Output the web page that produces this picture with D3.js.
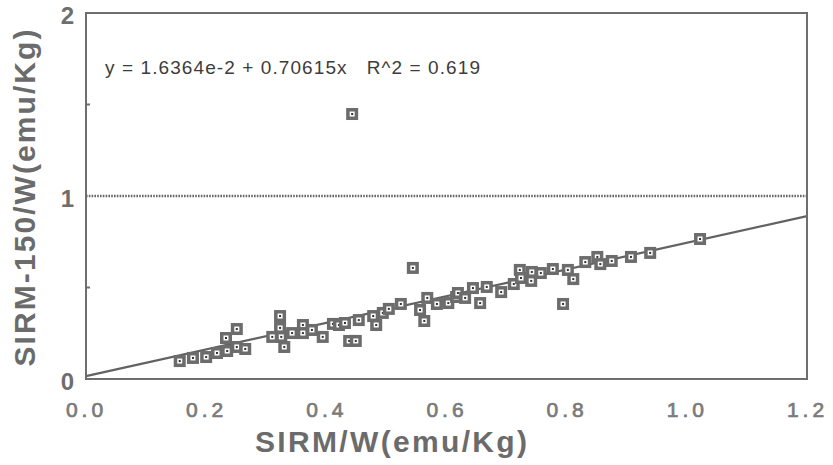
<!DOCTYPE html>
<html>
<head>
<meta charset="utf-8">
<script src="https://cdn.jsdelivr.net/npm/d3@7"></script>
<style>
  body { margin: 0; background: #fff; }
  svg { display: block; font-family: 'Liberation Sans', Arial, sans-serif; }
</style>
</head>
<body>
<div id="chart"></div>
<script>
// SIRM/W (x) and SIRM-150/W (y) per sample
let sirmW = [0.156, 0.178, 0.200, 0.218, 0.235, 0.233, 0.251, 0.251, 0.265, 0.323,
  0.323, 0.310, 0.325, 0.330, 0.343, 0.361, 0.361, 0.376, 0.394, 0.411,
  0.421, 0.431, 0.454, 0.438, 0.449, 0.478, 0.483, 0.494, 0.504, 0.524,
  0.544, 0.556, 0.563, 0.568, 0.584, 0.603, 0.616, 0.619, 0.631, 0.644,
  0.656, 0.667, 0.691, 0.712, 0.722, 0.724, 0.741, 0.742, 0.757, 0.777,
  0.794, 0.802, 0.811, 0.831, 0.851, 0.856, 0.875, 0.907, 0.939, 1.022,
  0.443];
let sirm150W = [0.098, 0.115, 0.120, 0.142, 0.153, 0.224, 0.273, 0.175, 0.164, 0.344,
  0.279, 0.230, 0.230, 0.175, 0.251, 0.295, 0.251, 0.268, 0.230, 0.301,
  0.295, 0.306, 0.322, 0.208, 0.208, 0.344, 0.295, 0.361, 0.383, 0.410,
  0.607, 0.377, 0.317, 0.443, 0.410, 0.415, 0.448, 0.470, 0.443, 0.497,
  0.415, 0.503, 0.475, 0.519, 0.596, 0.552, 0.536, 0.585, 0.579, 0.601,
  0.410, 0.596, 0.546, 0.639, 0.667, 0.628, 0.645, 0.667, 0.689, 0.765,
  1.448];

let xTicks = [0, 0.2, 0.4, 0.6, 0.8, 1.0, 1.2];
let yTicks = [0, 1, 2];
let yMinorTicks = [0.5, 1.5];

// fitted line end points and the y = 1 reference line
let fitX = [0, 1.2];
let fitY = [0.016, 0.89];
let refLineY = 1;

let equationText = 'y = 1.6364e-2 + 0.70615x   R^2 = 0.619';
let xTitle = 'SIRM/W(emu/Kg)';
let yTitle = 'SIRM-150/W(emu/Kg)';

let width = 833;
let height = 465;
let margin = {top: 13, right: 26, bottom: 86, left: 86};

let svg = d3.select('#chart')
.append('svg')
.attr('width', width)
.attr('height', height);

svg.append('rect')
.attr('width', width)
.attr('height', height)
.attr('fill', '#fff');

let x = d3.scaleLinear()
.domain([0, 1.2])
.range([margin.left, width - margin.right]);

let y = d3.scaleLinear()
.domain([0, 2])
.range([height - margin.bottom, margin.top]);

// reference line at y = 1 (dotted)
svg.append('line')
.attr('x1', x(0))
.attr('x2', x(1.2))
.attr('y1', y(refLineY))
.attr('y2', y(refLineY))
.attr('stroke', '#666')
.attr('stroke-width', 2.6)
.attr('stroke-dasharray', '1.6,1.2');

// regression line
svg.append('line')
.attr('x1', x(fitX[0]))
.attr('x2', x(fitX[1]))
.attr('y1', y(fitY[0]))
.attr('y2', y(fitY[1]))
.attr('stroke', '#626262')
.attr('stroke-width', 2.2);

// frame
svg.append('rect')
.attr('x', x(0))
.attr('y', y(2))
.attr('width', x(1.2) - x(0))
.attr('height', y(0) - y(2))
.attr('fill', 'none')
.attr('stroke', '#6e6e6e')
.attr('stroke-width', 2);

// small inward ticks on the left axis
svg.selectAll('.minor')
.data(yMinorTicks)
.enter()
.append('line')
.attr('class', 'minor')
.attr('x1', x(0))
.attr('x2', x(0) + 4)
.attr('y1', d => y(d))
.attr('y2', d => y(d))
.attr('stroke', '#6e6e6e')
.attr('stroke-width', 2);

// x axis labels
let xAxis = svg.append('g')
.attr('transform', `translate(0,${y(0)})`)
.call(d3.axisBottom(x).tickValues(xTicks).tickSize(0).tickPadding(23)
  .tickFormat(d3.format('.1f')));
xAxis.select('.domain').remove();
xAxis.selectAll('text')
.attr('fill', '#7a7a7a')
.attr('stroke', '#7a7a7a')
.attr('stroke-width', 0.7)
.attr('font-size', 21)
.attr('letter-spacing', 4)
.attr('font-family', "'Liberation Sans', Arial, sans-serif");

// y axis labels
let yAxis = svg.append('g')
.attr('transform', `translate(${x(0)},0)`)
.call(d3.axisLeft(y).tickValues(yTicks).tickSize(0).tickPadding(12)
  .tickFormat(d3.format('d')));
yAxis.select('.domain').remove();
yAxis.selectAll('text')
.attr('fill', '#6e6e6e')
.attr('font-size', 24)
.attr('font-weight', 'bold')
.attr('dy', '0.45em')
.attr('font-family', "'Liberation Sans', Arial, sans-serif");

// axis titles
svg.append('text')
.attr('x', 391)
.attr('y', 452)
.attr('text-anchor', 'middle')
.attr('font-size', 30)
.attr('font-weight', 'bold')
.attr('fill', '#6b6b6b')
.attr('textLength', 272)
.attr('lengthAdjust', 'spacing')
.text(xTitle);

svg.append('text')
.attr('transform', 'translate(35,198) rotate(-90)')
.attr('text-anchor', 'middle')
.attr('font-size', 30)
.attr('font-weight', 'bold')
.attr('fill', '#6b6b6b')
.attr('textLength', 337)
.attr('lengthAdjust', 'spacing')
.text(yTitle);

// regression equation
svg.append('text')
.attr('x', 105)
.attr('y', 74)
.attr('font-size', 19)
.attr('fill', '#3c3c3c')
.attr('textLength', 375)
.attr('lengthAdjust', 'spacing')
.style('white-space', 'pre')
.text(equationText);

// square markers: grey box, white centre, dark dot
let points = svg.append('g')
.selectAll('g')
.data(sirmW.map((d, i) => [d, sirm150W[i]]))
.enter()
.append('g')
.attr('transform', d => `translate(${x(d[0])},${y(d[1])})`);

points.append('rect')
.attr('x', -6)
.attr('y', -6)
.attr('width', 12)
.attr('height', 12)
.attr('fill', '#6c6c6c');

points.append('rect')
.attr('x', -2.5)
.attr('y', -2.5)
.attr('width', 5)
.attr('height', 5)
.attr('fill', '#fff');

points.append('rect')
.attr('x', -1)
.attr('y', -1)
.attr('width', 2)
.attr('height', 2)
.attr('fill', '#333');
</script>
</body>
</html>
